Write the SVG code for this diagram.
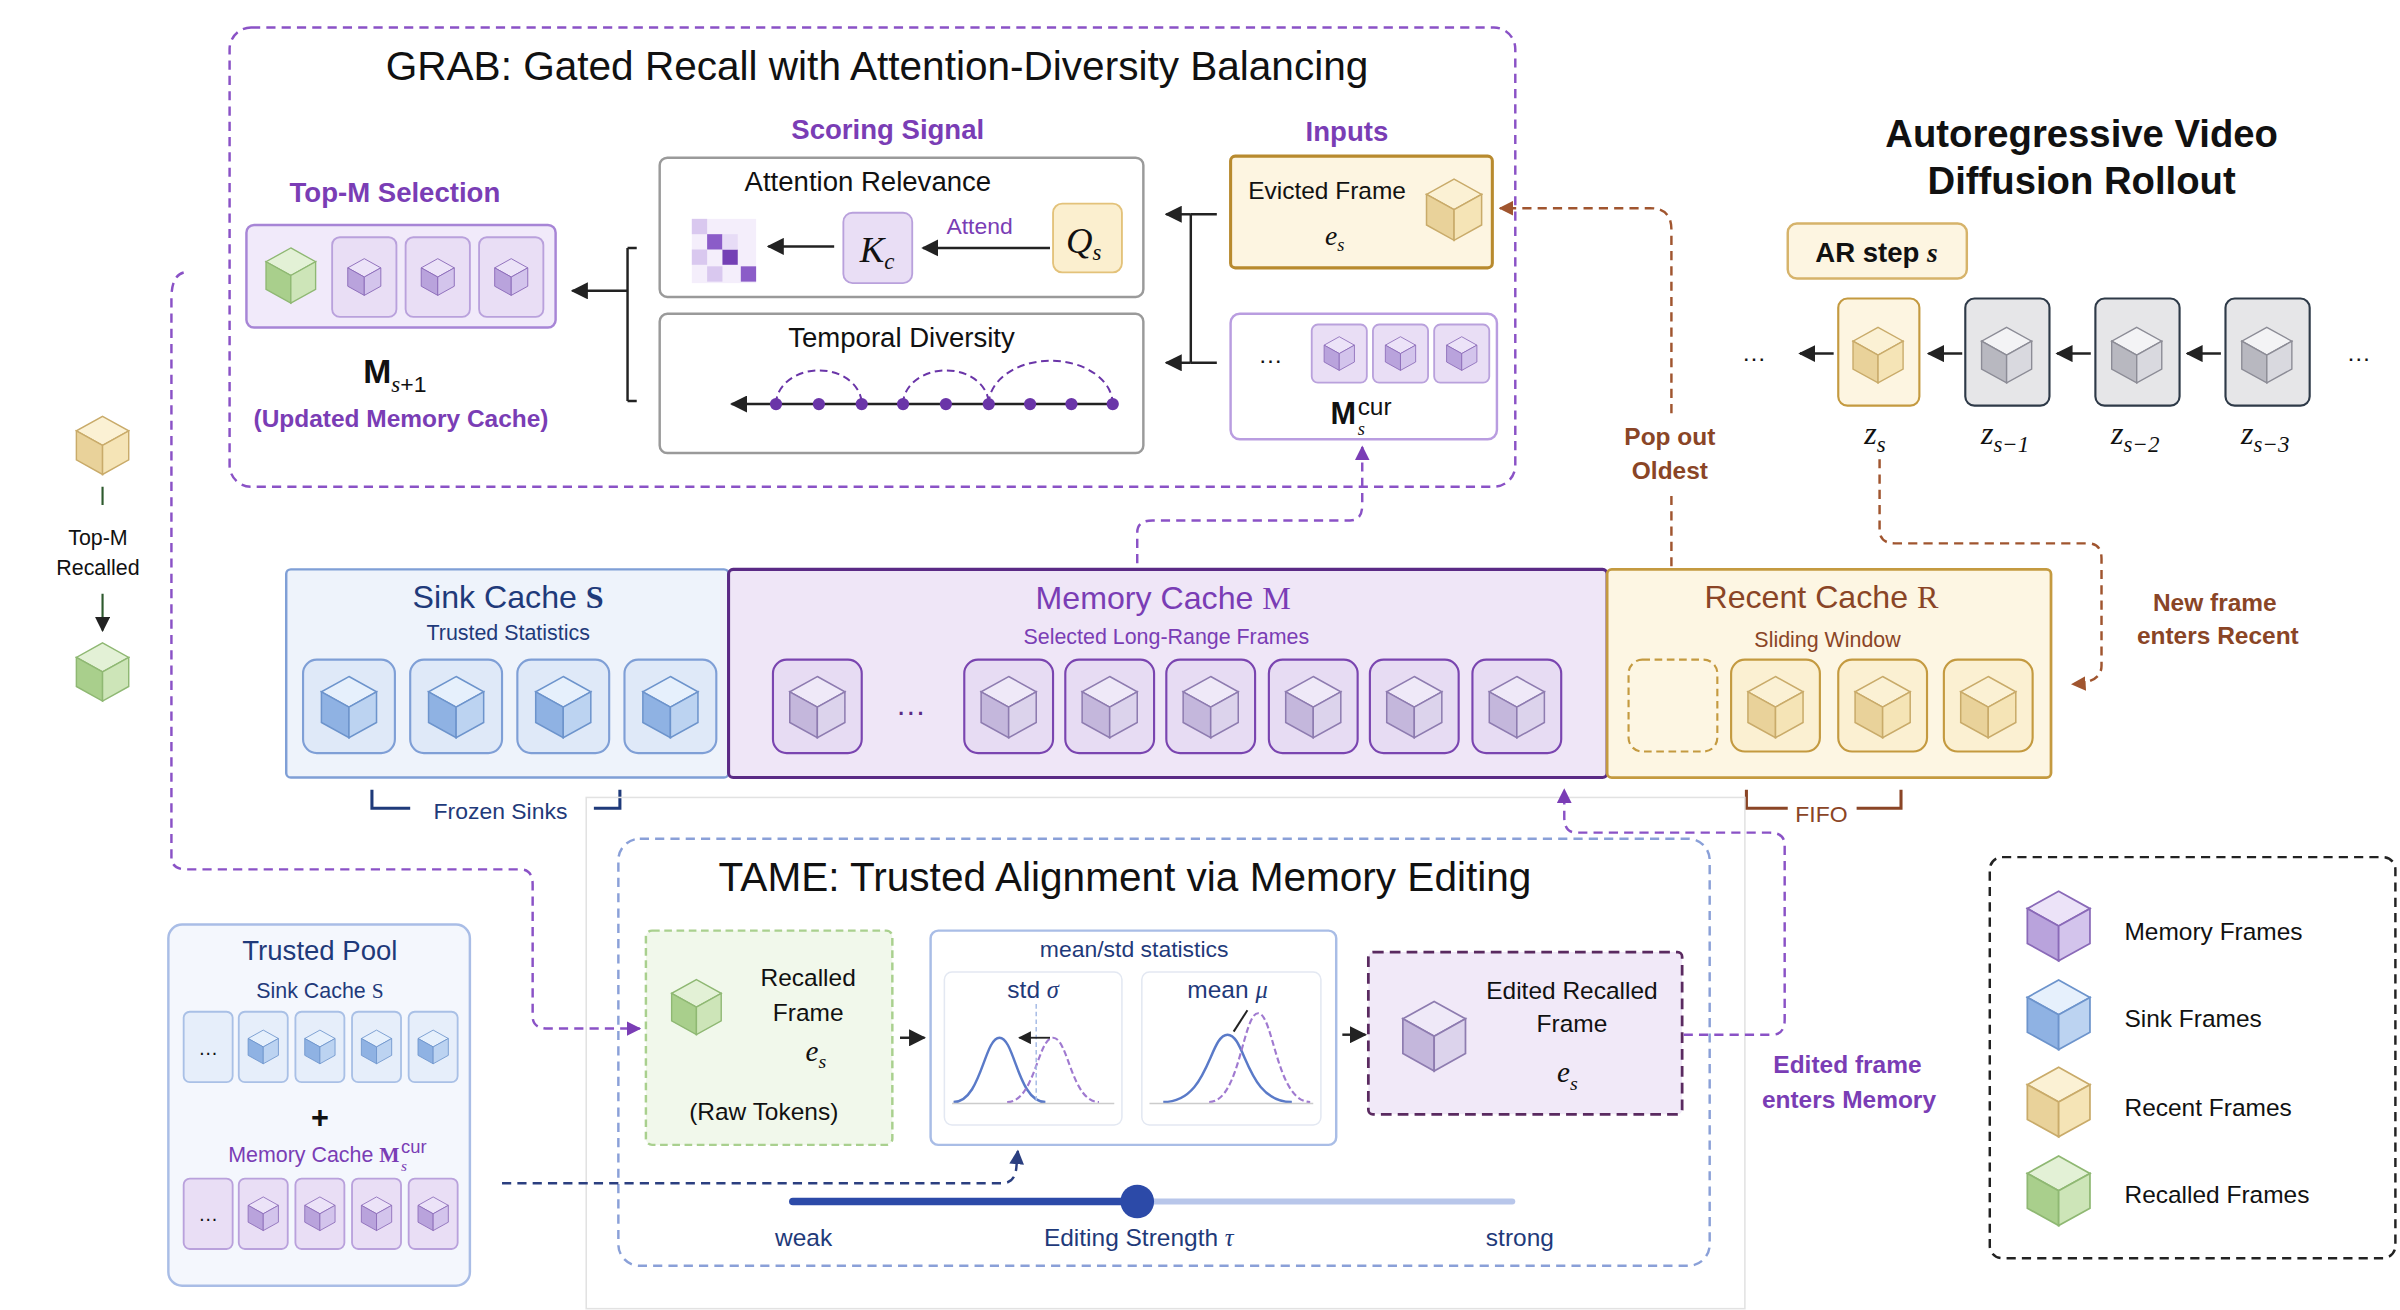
<svg xmlns="http://www.w3.org/2000/svg" xmlns:xlink="http://www.w3.org/1999/xlink" width="2400" height="1310" viewBox="0 0 2400 1310">
<style>
text{font-family:"Liberation Sans",Arial,sans-serif;fill:#111;text-anchor:middle}
.pt{fill:#7a3db5;font-weight:bold}
.br{fill:#8a4526;font-weight:bold}
.st{text-anchor:start}
.it{font-family:"Liberation Serif","DejaVu Serif",serif;font-style:italic}
.bx{fill:#fff;stroke:#9a9a9a;stroke-width:1.6}
.tileP{fill:#e9def5;stroke:#b9a1dc;stroke-width:1.2}
.tileB{fill:#e6eefa;stroke:#a9c0e6;stroke-width:1.2}
.bigP{fill:#e7dcf3;stroke:#7a45b0;stroke-width:1.4}
.bigB{fill:#dfe9f8;stroke:#7f9fd6;stroke-width:1.4}
.bigY{fill:#fbf0d2;stroke:#c49a40;stroke-width:1.4}
.dP{fill:none;stroke:#8a52c6;stroke-width:1.6;stroke-dasharray:6 4}
.dB{fill:none;stroke:#8aa0d8;stroke-width:1.6;stroke-dasharray:6 4}
.dBr{fill:none;stroke:#a0552f;stroke-width:1.6;stroke-dasharray:6 4}
.dN{fill:none;stroke:#2b3f80;stroke-width:1.6;stroke-dasharray:6 4}
.ln{fill:none;stroke:#222;stroke-width:1.6}
</style>
<defs>
<symbol id="cP" viewBox="0 0 40 44"><polygon points="20,2 38,12 20,22 2,12" fill="#ece3f8" stroke="#8a6ab8"/><polygon points="2,12 20,22 20,42 2,32" fill="#b9a3dc" stroke="#8a6ab8"/><polygon points="20,22 38,12 38,32 20,42" fill="#d3c4ec" stroke="#8a6ab8"/></symbol>
<symbol id="cB" viewBox="0 0 40 44"><polygon points="20,2 38,12 20,22 2,12" fill="#e6f0fc" stroke="#6d94cc"/><polygon points="2,12 20,22 20,42 2,32" fill="#8fb2e3" stroke="#6d94cc"/><polygon points="20,22 38,12 38,32 20,42" fill="#bcd3f1" stroke="#6d94cc"/></symbol>
<symbol id="cY" viewBox="0 0 40 44"><polygon points="20,2 38,12 20,22 2,12" fill="#fbf1d4" stroke="#c9ab6a"/><polygon points="2,12 20,22 20,42 2,32" fill="#e9d29a" stroke="#c9ab6a"/><polygon points="20,22 38,12 38,32 20,42" fill="#f5e4b6" stroke="#c9ab6a"/></symbol>
<symbol id="cG" viewBox="0 0 40 44"><polygon points="20,2 38,12 20,22 2,12" fill="#e3f1d6" stroke="#8fb873"/><polygon points="2,12 20,22 20,42 2,32" fill="#a9cf8c" stroke="#8fb873"/><polygon points="20,22 38,12 38,32 20,42" fill="#cde5b8" stroke="#8fb873"/></symbol>
<symbol id="cW" viewBox="0 0 40 44"><polygon points="20,2 38,12 20,22 2,12" fill="#f3f3f5" stroke="#8c8c96"/><polygon points="2,12 20,22 20,42 2,32" fill="#b8b8c0" stroke="#8c8c96"/><polygon points="20,22 38,12 38,32 20,42" fill="#d9d9df" stroke="#8c8c96"/></symbol>
<symbol id="cL" viewBox="0 0 40 44"><polygon points="20,2 38,12 20,22 2,12" fill="#efe9f8" stroke="#8e7cb0"/><polygon points="2,12 20,22 20,42 2,32" fill="#c4b7dc" stroke="#8e7cb0"/><polygon points="20,22 38,12 38,32 20,42" fill="#dcd3ec" stroke="#8e7cb0"/></symbol>
<marker id="ak" viewBox="0 0 10 10" refX="9" refY="5" markerWidth="7" markerHeight="7" orient="auto-start-reverse"><path d="M0,0 L10,5 L0,10 z" fill="#222"/></marker>
<marker id="aP" viewBox="0 0 10 10" refX="9" refY="5" markerWidth="6" markerHeight="6" orient="auto"><path d="M0,0 L10,5 L0,10 z" fill="#7a3db5"/></marker>
<marker id="aBr" viewBox="0 0 10 10" refX="9" refY="5" markerWidth="6" markerHeight="6" orient="auto"><path d="M0,0 L10,5 L0,10 z" fill="#a0552f"/></marker>
<marker id="aN" viewBox="0 0 10 10" refX="9" refY="5" markerWidth="6" markerHeight="6" orient="auto"><path d="M0,0 L10,5 L0,10 z" fill="#2b3f80"/></marker>
</defs>
<rect width="2400" height="1310" fill="#fff"/>
<g transform="scale(1.5306)">

<g id="grab">
<rect x="150" y="18" width="840" height="300" rx="14" class="dP" stroke-width="1.4"/>
<text x="573" y="52" font-size="26.5">GRAB: Gated Recall with Attention-Diversity Balancing</text>
<text x="580" y="91" font-size="18" class="pt">Scoring Signal</text>
<text x="880" y="92" font-size="18" class="pt">Inputs</text>
<text x="258" y="132" font-size="18" class="pt">Top-M Selection</text>
</g>

<g id="topm">
<rect x="161" y="147" width="202" height="67" rx="5" fill="#f1eafa" stroke="#a785d6" stroke-width="1.6"/>
<use href="#cG" x="172" y="160" width="36" height="40"/>
<rect x="217" y="155" width="42" height="52" rx="5" class="tileP"/><use href="#cP" x="226" y="163" width="24" height="36"/>
<rect x="265" y="155" width="42" height="52" rx="5" class="tileP"/><use href="#cP" x="274" y="163" width="24" height="36"/>
<rect x="313" y="155" width="42" height="52" rx="5" class="tileP"/><use href="#cP" x="322" y="163" width="24" height="36"/>
<text x="258" y="250" font-size="22" font-family="Liberation Serif" font-weight="bold">M<tspan font-size="15" dy="6" font-weight="normal" class="it">s</tspan><tspan font-size="15" dy="0" font-weight="normal">+1</tspan></text>
<text x="262" y="279" font-size="16" class="pt">(Updated Memory Cache)</text>
</g>

<g id="attention">
<rect x="431" y="103" width="316" height="91" rx="5" class="bx"/>
<text x="567" y="125" font-size="18">Attention Relevance</text>
<g fill="#d9c8ef">
<rect x="452" y="143" width="42" height="42" fill="#f4eefb"/>
<rect x="452" y="143" width="10" height="10"/><rect x="462" y="153" width="10" height="10" fill="#8b5cc8"/><rect x="472" y="163" width="10" height="10" fill="#7440b5"/><rect x="484" y="174" width="10" height="10" fill="#8b5cc8"/><rect x="452" y="163" width="10" height="10"/><rect x="472" y="153" width="10" height="10" fill="#e7dcf6"/><rect x="462" y="174" width="10" height="10"/>
</g>
<rect x="551" y="139" width="45" height="46" rx="6" class="tileP"/>
<text x="573" y="171" font-size="24" class="it">K<tspan font-size="15" dy="5">c</tspan></text>
<text x="640" y="153" font-size="15" style="fill:#7a3db5">Attend</text>
<rect x="688" y="133" width="45" height="45" rx="6" fill="#fbefcf" stroke="#e3c27a" stroke-width="1.2"/>
<text x="708" y="165" font-size="24" class="it">Q<tspan font-size="15" dy="5">s</tspan></text>
</g>

<g id="temporal">
<rect x="431" y="205" width="316" height="91" rx="5" class="bx"/>
<text x="589" y="227" font-size="18">Temporal Diversity</text>
<path class="ln" d="M730,264 L478,264" marker-end="url(#ak)"/>
<path d="M507,264 A28,22 0 0 1 563,264 M590,264 A28,22 0 0 1 646,264 M646,264 A40,28 0 0 1 727,264" fill="none" stroke="#6a35a8" stroke-width="1.3" stroke-dasharray="5 3"/>
<g fill="#6a35a8"><circle cx="507" cy="264" r="4"/><circle cx="535" cy="264" r="4"/><circle cx="563" cy="264" r="4"/><circle cx="590" cy="264" r="4"/><circle cx="618" cy="264" r="4"/><circle cx="646" cy="264" r="4"/><circle cx="673" cy="264" r="4"/><circle cx="700" cy="264" r="4"/><circle cx="727" cy="264" r="4"/></g>
</g>

<g id="evicted">
<rect x="804" y="102" width="171" height="73" rx="3" fill="#fdf5e1" stroke="#b88a2e" stroke-width="2"/>
<text x="867" y="130" font-size="16">Evicted Frame</text>
<text x="872" y="160" font-size="18" class="it">e<tspan font-size="12" dy="4">s</tspan></text>
<use href="#cY" x="929" y="115" width="42" height="44"/>
</g>

<g id="mcur">
<rect x="804" y="205" width="174" height="82" rx="6" fill="#fff" stroke="#b99de0" stroke-width="1.6"/>
<text x="830" y="237" font-size="16">…</text>
<rect x="857" y="212" width="36" height="38" rx="4" class="tileP"/><use href="#cP" x="864" y="217" width="22" height="28"/>
<rect x="897" y="212" width="36" height="38" rx="4" class="tileP"/><use href="#cP" x="904" y="217" width="22" height="28"/>
<rect x="937" y="212" width="36" height="38" rx="4" class="tileP"/><use href="#cP" x="944" y="217" width="22" height="28"/>
<text x="886" y="277" font-size="20" font-family="Liberation Serif" font-weight="bold" style="text-anchor:end">M</text>
<text x="887" y="271" font-size="16" font-family="Liberation Serif" class="st">cur</text>
<text x="887" y="284" font-size="12" class="it st">s</text>
</g>

<g id="ar-title">
<text x="1360" y="96" font-size="25" font-weight="bold">Autoregressive Video</text>
<text x="1360" y="127" font-size="25" font-weight="bold">Diffusion Rollout</text>
<rect x="1168" y="146" width="117" height="36" rx="6" fill="#fdf5e1" stroke="#d6b36a" stroke-width="1.6"/>
<text x="1226" y="171" font-size="18" font-weight="bold">AR step <tspan class="it" font-family="Liberation Serif">s</tspan></text>
</g>

<g id="rollout">
<text x="1146" y="236" font-size="16">…</text>
<text x="1541" y="236" font-size="16">…</text>
<rect x="1201" y="195" width="53" height="70" rx="6" fill="#fdf5e1" stroke="#c49a40" stroke-width="1.4"/><use href="#cY" x="1208" y="212" width="38" height="40"/>
<rect x="1284" y="195" width="55" height="70" rx="6" fill="#e6e6e8" stroke="#2e3a48" stroke-width="1.4"/><use href="#cW" x="1292" y="212" width="38" height="40"/>
<rect x="1369" y="195" width="55" height="70" rx="6" fill="#e6e6e8" stroke="#2e3a48" stroke-width="1.4"/><use href="#cW" x="1377" y="212" width="38" height="40"/>
<rect x="1454" y="195" width="55" height="70" rx="6" fill="#e6e6e8" stroke="#2e3a48" stroke-width="1.4"/><use href="#cW" x="1462" y="212" width="38" height="40"/>
<g font-size="21"><text x="1225" y="290" class="it">z<tspan font-size="15" dy="5">s</tspan></text>
<text x="1310" y="290" class="it">z<tspan font-size="15" dy="5">s−1</tspan></text>
<text x="1395" y="290" class="it">z<tspan font-size="15" dy="5">s−2</tspan></text>
<text x="1480" y="290" class="it">z<tspan font-size="15" dy="5">s−3</tspan></text></g>
<text x="1091" y="291" font-size="16" class="br">Pop out</text>
<text x="1091" y="313" font-size="16" class="br">Oldest</text>
<text x="1447" y="399" font-size="16" class="br">New frame</text>
<text x="1449" y="421" font-size="16" class="br">enters Recent</text>
</g>

<g id="recalled-legend">
<use href="#cY" x="48" y="270" width="38" height="42"/>
<text x="64" y="356" font-size="14" fill="#1f3a2e">Top-M</text>
<text x="64" y="376" font-size="14" fill="#1f3a2e">Recalled</text>
<use href="#cG" x="48" y="418" width="38" height="42"/>
</g>

<g id="sink">
<rect x="187" y="372" width="289" height="136" rx="3" fill="#eef3fb" stroke="#7f9fd6" stroke-width="1.6"/>
<text x="332" y="397" font-size="21" style="fill:#1f3a7a">Sink Cache <tspan font-family="Liberation Serif" font-weight="bold">S</tspan></text>
<text x="332" y="418" font-size="14" style="fill:#1f3a7a">Trusted Statistics</text>
<rect x="198" y="431" width="60" height="61" rx="9" class="bigB"/><use href="#cB" x="208" y="440" width="40" height="44"/>
<rect x="268" y="431" width="60" height="61" rx="9" class="bigB"/><use href="#cB" x="278" y="440" width="40" height="44"/>
<rect x="338" y="431" width="60" height="61" rx="9" class="bigB"/><use href="#cB" x="348" y="440" width="40" height="44"/>
<rect x="408" y="431" width="60" height="61" rx="9" class="bigB"/><use href="#cB" x="418" y="440" width="40" height="44"/>
<path d="M243,516 L243,528 L268,528 M388,528 L405,528 L405,516" stroke="#1f3a7a" stroke-width="2" fill="none"/>
<text x="327" y="535" font-size="15" style="fill:#1f3a7a">Frozen Sinks</text>
</g>

<g id="memory">
<rect x="476" y="372" width="574" height="136" rx="3" fill="#efe6f7" stroke="#5a2a85" stroke-width="2"/>
<text x="760" y="398" font-size="21" style="fill:#7a3db5">Memory Cache <tspan font-family="Liberation Serif">M</tspan></text>
<text x="762" y="421" font-size="14" style="fill:#7a3db5">Selected Long-Range Frames</text>
<rect x="505" y="431" width="58" height="61" rx="9" class="bigP"/><use href="#cL" x="514" y="440" width="40" height="44"/>
<text x="595" y="467" font-size="20" style="fill:#5a2a85">…</text>
<rect x="630" y="431" width="58" height="61" rx="9" class="bigP"/><use href="#cL" x="639" y="440" width="40" height="44"/>
<rect x="696" y="431" width="58" height="61" rx="9" class="bigP"/><use href="#cL" x="705" y="440" width="40" height="44"/>
<rect x="762" y="431" width="58" height="61" rx="9" class="bigP"/><use href="#cL" x="771" y="440" width="40" height="44"/>
<rect x="829" y="431" width="58" height="61" rx="9" class="bigP"/><use href="#cL" x="838" y="440" width="40" height="44"/>
<rect x="895" y="431" width="58" height="61" rx="9" class="bigP"/><use href="#cL" x="904" y="440" width="40" height="44"/>
<rect x="962" y="431" width="58" height="61" rx="9" class="bigP"/><use href="#cL" x="971" y="440" width="40" height="44"/>
</g>

<g id="recent">
<rect x="1050" y="372" width="290" height="136" rx="3" fill="#fdf6e3" stroke="#c49a40" stroke-width="1.8"/>
<text x="1190" y="397" font-size="21" style="fill:#8a4526">Recent Cache <tspan font-family="Liberation Serif">R</tspan></text>
<text x="1194" y="423" font-size="14" style="fill:#8a4526">Sliding Window</text>
<rect x="1064" y="431" width="58" height="60" rx="9" fill="none" stroke="#c49a40" stroke-width="1.4" stroke-dasharray="5 3"/>
<rect x="1131" y="431" width="58" height="60" rx="9" class="bigY"/><use href="#cY" x="1140" y="440" width="40" height="44"/>
<rect x="1201" y="431" width="58" height="60" rx="9" class="bigY"/><use href="#cY" x="1210" y="440" width="40" height="44"/>
<rect x="1270" y="431" width="58" height="60" rx="9" class="bigY"/><use href="#cY" x="1279" y="440" width="40" height="44"/>
<path d="M1141,516 L1141,528 L1168,528 M1213,528 L1242,528 L1242,516" stroke="#8a4526" stroke-width="2" fill="none"/>
<text x="1190" y="537" font-size="15" style="fill:#8a4526">FIFO</text>
</g>

<rect x="383" y="521" width="757" height="334" fill="none" stroke="#e2e2e2" stroke-width="1"/>

<g id="tame">
<rect x="404" y="548" width="713" height="279" rx="14" class="dB"/>
<text x="735" y="582" font-size="26.5">TAME: Trusted Alignment via Memory Editing</text>
</g>

<g id="recalled-frame">
<rect x="422" y="608" width="161" height="140" rx="4" fill="#f1f8eb" stroke="#a9d08e" stroke-width="1.6" stroke-dasharray="5 3"/>
<use href="#cG" x="437" y="638" width="36" height="40"/>
<text x="528" y="644" font-size="16">Recalled</text>
<text x="528" y="667" font-size="16">Frame</text>
<text x="533" y="693" font-size="19" class="it">e<tspan font-size="13" dy="5">s</tspan></text>
<text x="499" y="732" font-size="16">(Raw Tokens)</text>
</g>

<g id="stats">
<rect x="608" y="608" width="265" height="140" rx="5" fill="#fff" stroke="#a9bde6" stroke-width="1.6"/>
<text x="741" y="625" font-size="15" style="fill:#1f3a7a">mean/std statistics</text>
<rect x="617" y="635" width="116" height="100" rx="5" fill="#fff" stroke="#e3e8f2"/>
<rect x="746" y="635" width="117" height="100" rx="5" fill="#fff" stroke="#e3e8f2"/>
<text x="675" y="652" font-size="16" style="fill:#1f3a7a">std <tspan class="it" font-family="Liberation Serif">σ</tspan></text>
<text x="802" y="652" font-size="16" style="fill:#1f3a7a">mean <tspan class="it" font-family="Liberation Serif">μ</tspan></text>
<path d="M623,720 C641,720 643,678 653,678 C663,678 665,720 683,720" fill="none" stroke="#5a7ac8" stroke-width="1.6"/>
<path d="M658,720 C676,720 678,678 688,678 C698,678 700,720 718,720" fill="none" stroke="#a07ad0" stroke-width="1.4" stroke-dasharray="4 2"/>
<path d="M677,656 L677,720" stroke="#a9bde6" stroke-dasharray="3 2"/>
<path d="M686,678 L666,678" stroke="#222" stroke-width="1.2" marker-end="url(#ak)"/>
<path d="M760,720 C790,720 790,676 802,676 C814,676 814,720 844,720" fill="none" stroke="#5a7ac8" stroke-width="1.6"/>
<path d="M790,720 C810,720 812,662 822,662 C832,662 834,720 856,720" fill="none" stroke="#a07ad0" stroke-width="1.4" stroke-dasharray="4 2"/>
<path d="M815,660 L806,674" stroke="#222" stroke-width="1.3"/>
<path d="M622,721 L728,721 M751,721 L858,721" stroke="#ccc"/>
</g>

<g id="edited">
<rect x="894" y="622" width="205" height="106" rx="3" fill="#f1e9f8" stroke="#5a2a60" stroke-width="1.8" stroke-dasharray="7 4"/>
<use href="#cL" x="914" y="652" width="46" height="50"/>
<text x="1027" y="653" font-size="16">Edited Recalled</text>
<text x="1027" y="674" font-size="16">Frame</text>
<text x="1024" y="707" font-size="19" class="it">e<tspan font-size="13" dy="5">s</tspan></text>
<text x="1207" y="701" font-size="16" class="pt">Edited frame</text>
<text x="1208" y="724" font-size="16" class="pt">enters Memory</text>
</g>

<g id="slider">
<path d="M518,785 L988,785" stroke="#b8c6ea" stroke-width="4" stroke-linecap="round"/>
<path d="M518,785 L743,785" stroke="#2c4aa8" stroke-width="5" stroke-linecap="round"/>
<circle cx="743" cy="785" r="11" fill="#2c4aa8"/>
<text x="525" y="814" font-size="16" style="fill:#1f3a7a">weak</text>
<text x="744" y="814" font-size="16" style="fill:#1f3a7a">Editing Strength <tspan class="it" font-family="Liberation Serif">τ</tspan></text>
<text x="993" y="814" font-size="16" style="fill:#1f3a7a">strong</text>
</g>

<g id="trusted-pool">
<rect x="110" y="604" width="197" height="236" rx="9" fill="#f4f7fd" stroke="#a9bde6" stroke-width="1.6"/>
<text x="209" y="627" font-size="18" style="fill:#1f3a7a">Trusted Pool</text>
<text x="209" y="652" font-size="14" style="fill:#1f3a7a">Sink Cache <tspan font-family="Liberation Serif">S</tspan></text>
<rect x="120" y="661" width="32" height="46" rx="4" class="tileB"/><text x="136" y="689" font-size="13">…</text>
<rect x="156" y="661" width="32" height="46" rx="4" class="tileB"/><use href="#cB" x="161" y="670" width="22" height="28"/>
<rect x="193" y="661" width="32" height="46" rx="4" class="tileB"/><use href="#cB" x="198" y="670" width="22" height="28"/>
<rect x="230" y="661" width="32" height="46" rx="4" class="tileB"/><use href="#cB" x="235" y="670" width="22" height="28"/>
<rect x="267" y="661" width="32" height="46" rx="4" class="tileB"/><use href="#cB" x="272" y="670" width="22" height="28"/>
<text x="209" y="737" font-size="20" font-weight="bold">+</text>
<text x="261" y="759" font-size="14" style="fill:#7a3db5;text-anchor:end">Memory Cache <tspan font-family="Liberation Serif" font-weight="bold">M</tspan></text>
<text x="262" y="753" font-size="12" font-family="Liberation Serif" class="st" style="fill:#7a3db5">cur</text>
<text x="262" y="765" font-size="10" class="it st" style="fill:#7a3db5">s</text>
<rect x="120" y="770" width="32" height="46" rx="4" class="tileP"/><text x="136" y="798" font-size="13">…</text>
<rect x="156" y="770" width="32" height="46" rx="4" class="tileP"/><use href="#cP" x="161" y="779" width="22" height="28"/>
<rect x="193" y="770" width="32" height="46" rx="4" class="tileP"/><use href="#cP" x="198" y="779" width="22" height="28"/>
<rect x="230" y="770" width="32" height="46" rx="4" class="tileP"/><use href="#cP" x="235" y="779" width="22" height="28"/>
<rect x="267" y="770" width="32" height="46" rx="4" class="tileP"/><use href="#cP" x="272" y="779" width="22" height="28"/>
</g>

<g id="legend">
<rect x="1300" y="560" width="265" height="262" rx="8" fill="none" stroke="#222" stroke-width="1.6" stroke-dasharray="6 4"/>
<use href="#cP" x="1322" y="580" width="46" height="50"/><text x="1388" y="614" font-size="16" class="st">Memory Frames</text>
<use href="#cB" x="1322" y="638" width="46" height="50"/><text x="1388" y="671" font-size="16" class="st">Sink Frames</text>
<use href="#cY" x="1322" y="695" width="46" height="50"/><text x="1388" y="729" font-size="16" class="st">Recent Frames</text>
<use href="#cG" x="1322" y="753" width="46" height="50"/><text x="1388" y="786" font-size="16" class="st">Recalled Frames</text>
</g>

<g id="connectors">
<path class="dP" d="M120,178 Q112,180 112,195 L112,560 Q112,568 122,568 L340,568 Q348,568 348,578 L348,664 Q348,672 358,672 L418,672" marker-end="url(#aP)"/>
<path class="dP" d="M743,368 L743,348 Q743,340 753,340 L882,340 Q890,340 890,330 L890,292" marker-end="url(#aP)"/>
<path class="dP" d="M1100,676 L1158,676 Q1166,676 1166,666 L1166,552 Q1166,544 1156,544 L1030,544 Q1022,544 1022,534 L1022,516" marker-end="url(#aP)"/>
<path class="dBr" d="M1092,370 L1092,322 M1092,270 L1092,150 Q1092,136 1078,136 L980,136" marker-end="url(#aBr)"/>
<path class="dBr" d="M1228,300 L1228,346 Q1228,355 1238,355 L1364,355 Q1373,355 1373,365 L1373,435 Q1373,446 1354,447" marker-end="url(#aBr)"/>
<path class="dN" d="M328,773 L655,773 Q663,773 664,763 L665,752" marker-end="url(#aN)"/>
<path class="ln" d="M410,162 L410,262 M410,162 L416,162 M410,262 L416,262"/>
<path class="ln" d="M410,190 L374,190" marker-end="url(#ak)"/>
<path class="ln" d="M778,140 L778,237 M778,140 L795,140 M778,237 L795,237"/>
<path class="ln" d="M778,140 L762,140" marker-end="url(#ak)"/>
<path class="ln" d="M778,237 L762,237" marker-end="url(#ak)"/>
<path class="ln" d="M545,161 L502,161" marker-end="url(#ak)"/>
<path class="ln" d="M686,162 L603,162" marker-end="url(#ak)"/>
<path class="ln" d="M588,678 L604,678" marker-end="url(#ak)"/>
<path class="ln" d="M877,676 L892,676" marker-end="url(#ak)"/>
<path class="ln" d="M1198,231 L1176,231" marker-end="url(#ak)"/>
<path class="ln" d="M1282,231 L1260,231" marker-end="url(#ak)"/>
<path class="ln" d="M1366,231 L1344,231" marker-end="url(#ak)"/>
<path class="ln" d="M1451,231 L1429,231" marker-end="url(#ak)"/>
<path d="M67,318 L67,330 M67,388 L67,412" stroke="#2e5a2e" stroke-width="1.4" fill="none" marker-end="url(#ak)"/>
</g>
</g>
</svg>
